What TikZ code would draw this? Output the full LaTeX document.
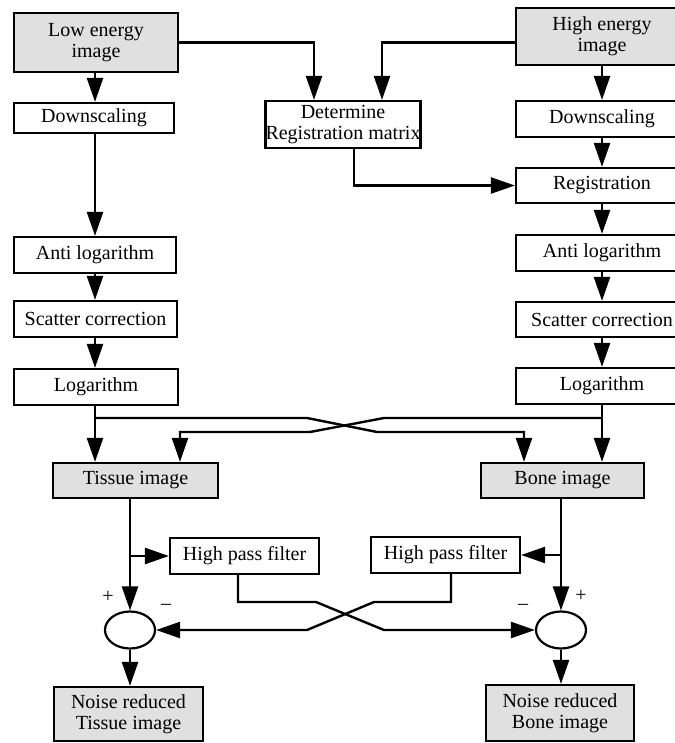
\documentclass[tikz,border=0pt]{standalone}
\usepackage{fontspec}
\setmainfont{Liberation Serif}
\usetikzlibrary{arrows.meta,shapes.geometric}
\begin{document}
\begin{tikzpicture}[x=1pt,y=-1pt,
  box/.style={draw,line width=2.2pt,inner sep=0pt,align=center,font=\fontsize{20}{21}\selectfont},
  shaded/.style={box,fill=black!12},
  arr/.style={line width=2.4pt,-{Triangle[length=24pt,width=16pt]}},
  sumnode/.style={draw,ellipse,line width=2.2pt,minimum width=50pt,minimum height=37pt,inner sep=0pt},
  sign/.style={font=\fontsize{20}{20}\selectfont,inner sep=0pt}]
\useasboundingbox (0,0) rectangle (674,743);
% column coordinates
\coordinate (colL) at (95,0);
\coordinate (colR) at (602,0);
\coordinate (dA) at (314,0);
\coordinate (dB) at (382,0);
\coordinate (dC) at (354,0);
\coordinate (tx) at (180,0);
\coordinate (bx) at (524,0);
\coordinate (hx) at (238,0);
\coordinate (hx2) at (451,0);
\coordinate (bL) at (95,418);
\coordinate (bR) at (602,418);
\coordinate (tb) at (130,556);
\coordinate (bb) at (561,555);
% left column
\node[shaded,minimum width=164pt,minimum height=59pt] (low) at (96,42.5) {Low energy\\image};
\node[box,minimum width=160pt,minimum height=30pt] (dsL) at (94,118) {Downscaling};
\node[box,minimum width=162pt,minimum height=36pt] (alL) at (95,255) {Anti logarithm};
\node[box,minimum width=163pt,minimum height=36pt] (scL) at (95.5,319) {Scatter correction};
\node[box,minimum width=164pt,minimum height=36pt] (logL) at (96,387) {Logarithm};
% middle
\node[box,minimum width=154pt,minimum height=47pt] (det) at (343,124.5) {Determine\\Registration matrix};
% right column
\node[shaded,minimum width=172pt,minimum height=57pt] (high) at (602,36.5) {High energy\\image};
\node[box,minimum width=172pt,minimum height=36pt] (dsR) at (602,119) {Downscaling};
\node[box,minimum width=172pt,minimum height=35pt] (reg) at (602,185.5) {Registration};
\node[box,minimum width=172pt,minimum height=36pt] (alR) at (602,253) {Anti logarithm};
\node[box,minimum width=172pt,minimum height=35pt] (scR) at (602,319.5) {Scatter correction};
\node[box,minimum width=172pt,minimum height=36pt] (logR) at (602,386) {Logarithm};
% lower part
\node[shaded,minimum width=165pt,minimum height=35pt] (tis) at (135.5,480.5) {Tissue image};
\node[shaded,minimum width=163pt,minimum height=35pt] (bone) at (562.5,480.5) {Bone image};
\node[box,minimum width=149pt,minimum height=36pt] (hpfL) at (244.5,556) {High pass filter};
\node[box,minimum width=149pt,minimum height=36pt] (hpfR) at (445.5,555) {High pass filter};
\node[sumnode] (sL) at (130,630) {};
\node[sumnode] (sR) at (561,630) {};
\node[shaded,minimum width=149pt,minimum height=54pt] (nrT) at (128.5,714) {Noise reduced\\Tissue image};
\node[shaded,minimum width=148pt,minimum height=56pt] (nrB) at (560,713) {Noise reduced\\Bone image};
% signs
\node[sign] (p1) at (108,597) {+};
\node[sign] (m1) at (166,607) {–};
\node[sign] (m2) at (523,607) {–};
\node[sign] (p2) at (581,596) {+};
% connectors top
\draw[arr] (low.south -| colL) -- (dsL.north -| colL);
\draw[arr] (low.east) -| (det.north -| dA);
\draw[arr] (high.west |- low.east) -| (det.north -| dB);
\draw[arr] (det.south -| dC) |- (reg.west);
\draw[arr] (dsL.south -| colL) -- (alL.north -| colL);
\draw[arr] (alL.south -| colL) -- (scL.north -| colL);
\draw[arr] (scL.south -| colL) -- (logL.north -| colL);
\draw[arr] (high.south -| colR) -- (dsR.north -| colR);
\draw[arr] (dsR.south -| colR) -- (reg.north -| colR);
\draw[arr] (reg.south -| colR) -- (alR.north -| colR);
\draw[arr] (alR.south -| colR) -- (scR.north -| colR);
\draw[arr] (scR.south -| colR) -- (logR.north -| colR);
% to tissue / bone
\draw[arr] (logL.south -| colL) -- (tis.north -| colL);
\draw[arr] (logR.south -| colR) -- (bone.north -| colR);
\draw[arr] (bL) -- (307,418) -- (377,432) -| (bone.north -| bx);
\draw[arr] (bR) -- (384,418) -- (310,432) -| (tis.north -| tx);
% filters and sums
\draw[arr] (tis.south -| sL) -- (sL.north);
\draw[arr] (tb) -- (hpfL.west);
\draw[arr] (bone.south -| sR) -- (sR.north);
\draw[arr] (bb) -- (hpfR.east);
\draw[arr] (hpfL.south -| hx) -- (238,602) -- (316,602) -- (384,630) -- (sR.west);
\draw[arr] (hpfR.south -| hx2) -- (451,602) -- (374,602) -- (307,630) -- (sL.east);
\draw[arr] (sL.south) -- (nrT.north -| sL);
\draw[arr] (sR.south) -- (nrB.north -| sR);
\end{tikzpicture}
\end{document}
